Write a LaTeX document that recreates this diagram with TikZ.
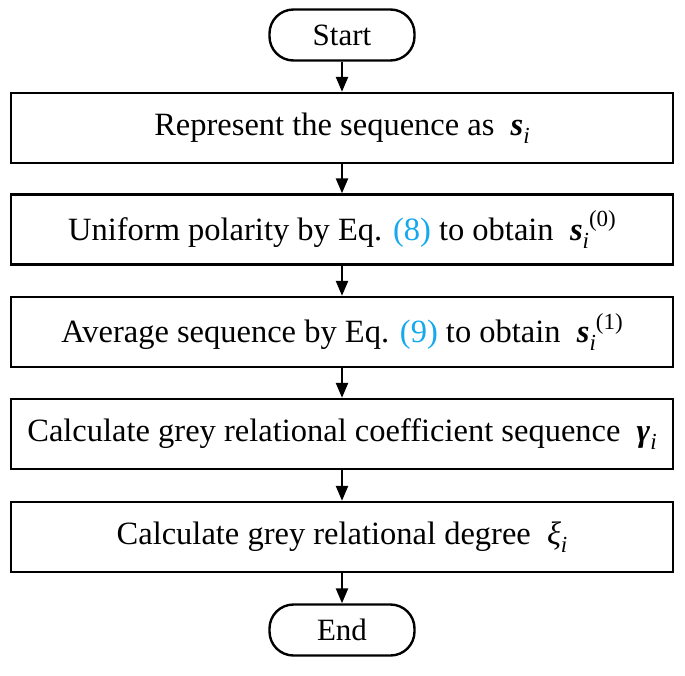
\documentclass[tikz,border=0pt]{standalone}
\usepackage{fontspec}
\setmainfont{Liberation Serif}
\usetikzlibrary{arrows.meta}
\definecolor{eqblue}{RGB}{20,168,238}
\newcommand{\bsym}[1]{{\bfseries\itshape #1}}
\newcommand{\sub}[1]{\raisebox{-0.25em}{\fontsize{23}{26}\selectfont\itshape #1}}
\newcommand{\supx}[1]{\raisebox{0.42em}{\fontsize{23}{26}\selectfont #1}}
\begin{document}
\begin{tikzpicture}[x=1pt,y=-1pt,
  every node/.style={font=\fontsize{32.5}{38}\selectfont, text=black},
  procbox/.style={draw, line width=2.4pt, minimum width=662pt, minimum height=70pt, inner sep=0pt},
  pill/.style={draw, line width=2.4pt, rounded corners=24pt, minimum width=145pt, minimum height=51pt, inner sep=0pt, font=\fontsize{31}{37}\selectfont},
  conn/.style={draw, line width=2.4pt, -{Triangle[width=12pt,length=15pt]}}]
\useasboundingbox (0,0) rectangle (685,675);
\node[pill] (start) at (342,35) {Start};
\node[procbox] (b1) at (342,128) {Represent the sequence as \ \bsym{s}\sub{i}};
\node[procbox] (b2) at (342,229.5) {Uniform polarity by Eq. \textcolor{eqblue}{(8)} to obtain \ \bsym{s}\sub{i}\supx{(0)}};
\node[procbox] (b3) at (342,332) {Average sequence by Eq. \textcolor{eqblue}{(9)} to obtain \ \bsym{s}\sub{i}\supx{(1)}};
\node[procbox] (b4) at (342,434) {Calculate grey relational coefficient sequence \ \bsym{γ}\sub{i}};
\node[procbox] (b5) at (342,537) {Calculate grey relational degree \ {\itshape ξ}\sub{i}};
\node[pill] (end) at (342,630) {End};
\draw[conn] (start) -- (b1);
\draw[conn] (b1) -- (b2);
\draw[conn] (b2) -- (b3);
\draw[conn] (b3) -- (b4);
\draw[conn] (b4) -- (b5);
\draw[conn] (b5) -- (end);
\end{tikzpicture}
\end{document}
